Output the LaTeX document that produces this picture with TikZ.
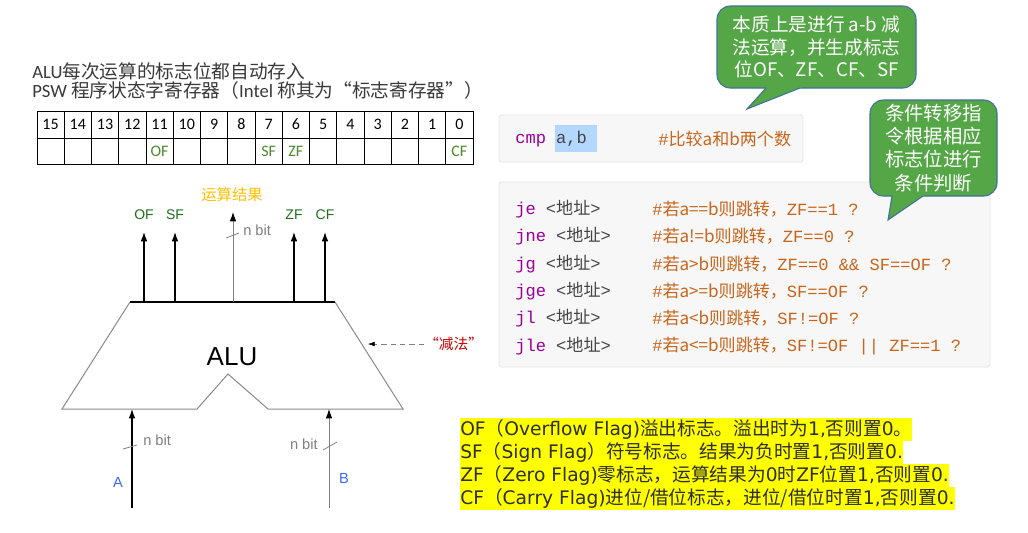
\documentclass[tikz,border=0pt]{standalone}
\usepackage{fontspec}
\setmainfont{Carlito}
\setmonofont{Liberation Mono}
\newfontfamily\cjk{Noto Sans CJK SC}
\newfontfamily\arialf{Liberation Sans}
\newfontfamily\verdf{DejaVu Sans}
\usepackage{tikz}
\usetikzlibrary{positioning,calc,arrows.meta}
\newcommand\zh[1]{{\cjk #1}}
\definecolor{headink}{HTML}{3A3A3A}
\definecolor{ink}{HTML}{2E2E2E}
\definecolor{flaggreen}{HTML}{1E6E1E}
\definecolor{tabgreen}{HTML}{4D8A2C}
\definecolor{bitgray}{HTML}{7F7F7F}
\definecolor{alugray}{HTML}{8A8A8A}
\definecolor{sigblue}{HTML}{3D6BF0}
\definecolor{resorange}{HTML}{FFC000}
\definecolor{subred}{HTML}{CC0000}
\definecolor{codebg}{HTML}{F7F7F7}
\definecolor{codeline}{HTML}{E4E4E4}
\definecolor{opcode}{HTML}{990099}
\definecolor{operand}{HTML}{444444}
\definecolor{remark}{HTML}{C8651B}
\definecolor{selblue}{HTML}{B3D7FF}
\definecolor{bubblefill}{HTML}{55A646}
\definecolor{bubbleline}{HTML}{41719C}
\definecolor{hilite}{HTML}{FFFF00}
\tikzset{
  heading/.style  = {font=\fontsize{14}{14.25}\selectfont\color{headink}, anchor=north west, inner sep=0pt, align=left},
  grid/.style     = {draw=black, line width=0.75pt},
  bitnum/.style   = {font=\fontsize{12}{14}\selectfont\color{black}, inner sep=0pt},
  bitflag/.style  = {font=\fontsize{12}{14}\selectfont\color{tabgreen}, inner sep=0pt},
  flaglab/.style  = {font=\arialf\fontsize{10.5}{12}\selectfont\color{flaggreen}, inner sep=0pt},
  nbit/.style     = {font=\arialf\fontsize{11}{13}\selectfont\color{bitgray}, inner sep=0pt},
  tick/.style     = {draw=bitgray, line width=0.6pt},
  sig/.style      = {-{Latex[length=7pt,width=5pt]}, line width=0.9pt},
  siggray/.style  = {-{Latex[length=7pt,width=5pt,color=black]}, draw=gray, line width=0.7pt},
  aluedge/.style  = {draw=alugray, line width=0.75pt},
  alutop/.style   = {draw=black, line width=1pt},
  sigtxt/.style   = {font=\arialf\fontsize{11}{13}\selectfont\color{sigblue}, inner sep=0pt},
  codebox/.style  = {draw=codeline, fill=codebg, line width=0.6pt, rounded corners=2pt},
  op/.style       = {font=\ttfamily\fontsize{12.8}{15}\selectfont\color{opcode}, anchor=west, inner sep=0pt},
  remark/.style   = {font=\ttfamily\fontsize{12.8}{15}\selectfont\color{remark}, anchor=west, inner sep=0pt},
  bubble/.style   = {draw=bubbleline, fill=bubblefill, line width=0.8pt, rounded corners=10pt,
                     align=center, inner sep=0pt, font=\cjk\fontsize{14}{17}\selectfont\color{white}},
  tailfill/.style = {fill=bubblefill},
  tailline/.style = {draw=bubbleline, line width=0.8pt},
  note/.style     = {fill=hilite, anchor=north west, inner xsep=0pt, inner ysep=0pt,
                     text height=12.6pt, text depth=4.65pt, font=\verdf\fontsize{14}{16}\selectfont\color{ink}},
}

\begin{document}
\begin{tikzpicture}[x=0.75pt,y=-0.75pt]
\path[use as bounding box, fill=white] (0,0) rectangle (1028,532);

% ---- PSW register -------------------------------------------------------
\node[heading] (head) at (32,62)
  {ALU\zh{每次运算的标志位都自动存入}\\PSW \zh{程序状态字寄存器（}Intel \zh{称其为“标志寄存器”）}};

\draw[grid] (37,111) rectangle (473,164);
\draw[grid] (37,138) -- (473,138);
\foreach \c in {1,...,15}{ \draw[grid] ({37+27.25*\c},111) -- ({37+27.25*\c},164); }
\foreach \b in {0,...,15}{ \node[bitnum] (bit\b) at ({37+27.25*(15-\b)+13.6},124.5) {\b}; }

\node[bitflag] (tOF) at (bit11 |- 0,151) {OF};
\node[bitflag] (tSF) at (bit7 |- 0,151)  {SF};
\node[bitflag] (tZF) at (bit6 |- 0,151)  {ZF};
\node[bitflag] (tCF) at (bit0 |- 0,151)  {CF};

% ---- ALU ----------------------------------------------------------------
\draw[aluedge] (130,302) -- (62,409) -- (197,409) -- (228,374) -- (268,409) -- (403,409) -- (335,302);
\draw[alutop] (130,302) -- (335,302);
\node[font=\arialf\fontsize{19.5}{22}\selectfont, inner sep=0pt] (alu) at (232,357) {ALU};

% flag outputs
\foreach \fl/\x in {OF/144,SF/175,ZF/294,CF/325}{
  \coordinate (\fl0) at (\x,302);
  \coordinate (\fl1) at (\x,232);
  \node[flaglab] (\fl) at (\x,215) {\fl};
  \draw[sig] (\fl0) -- (\fl1);
}

% result
\coordinate (res0) at (233,302);
\coordinate (res1) at (233,212);
\node[font=\cjk\fontsize{11.5}{13}\selectfont\color{resorange}, inner sep=0pt] (res) at (232,195) {运算结果};
\draw[siggray] (res0) -- (res1);
\draw[tick] (226,238) -- (239,233);
\node[nbit, anchor=west] (resbit) at (243,230) {n bit};

% inputs A, B
\coordinate (A0) at (132,508);
\coordinate (A1) at (132,409);
\draw[sig] (A0) -- (A1);
\draw[tick] (123,449) -- (137,445);
\node[nbit, anchor=west] (abit) at (143,440) {n bit};
\node[sigtxt] (A) at (118,482) {A};

\coordinate (B0) at (329,508);
\coordinate (B1) at (329,409);
\draw[siggray] (B0) -- (B1);
\draw[tick] (323,450) -- (337,442);
\node[nbit, anchor=east] (bbit) at (318,444) {n bit};
\node[sigtxt] (B) at (344,478) {B};

% subtraction mode
\node[font=\cjk\fontsize{11}{13}\selectfont\color{subred}, inner sep=0pt, anchor=west] (sub) at (424,344) {“减法”};
\coordinate (subtip) at (368,344);
\draw[draw=gray, dash pattern=on 4pt off 3pt, -{Latex[length=5pt,width=3.5pt,color=black]}] (sub.west) -- (subtip);

% ---- code ---------------------------------------------------------------
\draw[codebox] (499,115) rectangle (803,162);
\fill[selblue] (555,125) rectangle (597,152);
\node[op] (cmp) at (515,139) {cmp {\color{operand}a,b}};
\node[remark] (cmpc) at (658,139) {\#\zh{比较a和b两个数}};

\draw[codebox] (499,182) rectangle (990,367);
\node[op] (je)  at (515,209) {je {\color{operand}<\zh{地址}>}};
\node[op] (jne) at (515,236) {jne {\color{operand}<\zh{地址}>}};
\node[op] (jg)  at (515,264) {jg {\color{operand}<\zh{地址}>}};
\node[op] (jge) at (515,291) {jge {\color{operand}<\zh{地址}>}};
\node[op] (jl)  at (515,318) {jl {\color{operand}<\zh{地址}>}};
\node[op] (jle) at (515,346) {jle {\color{operand}<\zh{地址}>}};

\node[remark] (jec)  at (652,209) {\#\zh{若a==b则跳转，}ZF==1 ?};
\node[remark] (jnec) at (652,236) {\#\zh{若a!=b则跳转，}ZF==0 ?};
\node[remark] (jgc)  at (652,264) {\#\zh{若a>b则跳转，}ZF==0 \&\& SF==OF ?};
\node[remark] (jgec) at (652,291) {\#\zh{若a>=b则跳转，}SF==OF ?};
\node[remark] (jlc)  at (652,318) {\#\zh{若a<b则跳转，}SF!=OF ?};
\node[remark] (jlec) at (652,346) {\#\zh{若a<=b则跳转，}SF!=OF || ZF==1 ?};

% ---- call-outs ----------------------------------------------------------
\node[bubble, minimum width=149.25pt, minimum height=61.5pt] (essence) at (816.5,47)
  {本质上是进行 a-b 减\\法运算，并生成标志\\位OF、ZF、CF、SF};
\fill[tailfill] (769.6,84) -- (747,109) -- (810,84) -- cycle;
\draw[tailline] (766,88) -- (747,109) -- (800,88);

\node[bubble, minimum width=95.25pt, minimum height=72pt, font=\cjk\fontsize{14.5}{17.5}\selectfont\color{white}] (branch) at (933.5,148)
  {条件转移指\\令根据相应\\标志位进行\\条件判断};
\fill[tailfill] (892.7,192) -- (888,220) -- (928.8,192) -- cycle;
\draw[tailline] (892,196) -- (888,220) -- (923,196);

% ---- flag notes ---------------------------------------------------------
\node[note] (noteOF) at (460,418) {OF\zh{（}Overflow Flag)\zh{溢出标志。溢出时为}1,\zh{否则置}0\zh{。}};
\node[note] (noteSF) at (460,441) {SF\zh{（}Sign Flag\zh{）符号标志。结果为负时置}1,\zh{否则置}0.};
\node[note] (noteZF) at (460,464) {ZF\zh{（}Zero Flag)\zh{零标志，运算结果为}0\zh{时}ZF\zh{位置}1,\zh{否则置}0.};
\node[note] (noteCF) at (460,487) {CF\zh{（}Carry Flag)\zh{进位/借位标志，进位/借位时置}1,\zh{否则置}0.};

\end{tikzpicture}
\end{document}
